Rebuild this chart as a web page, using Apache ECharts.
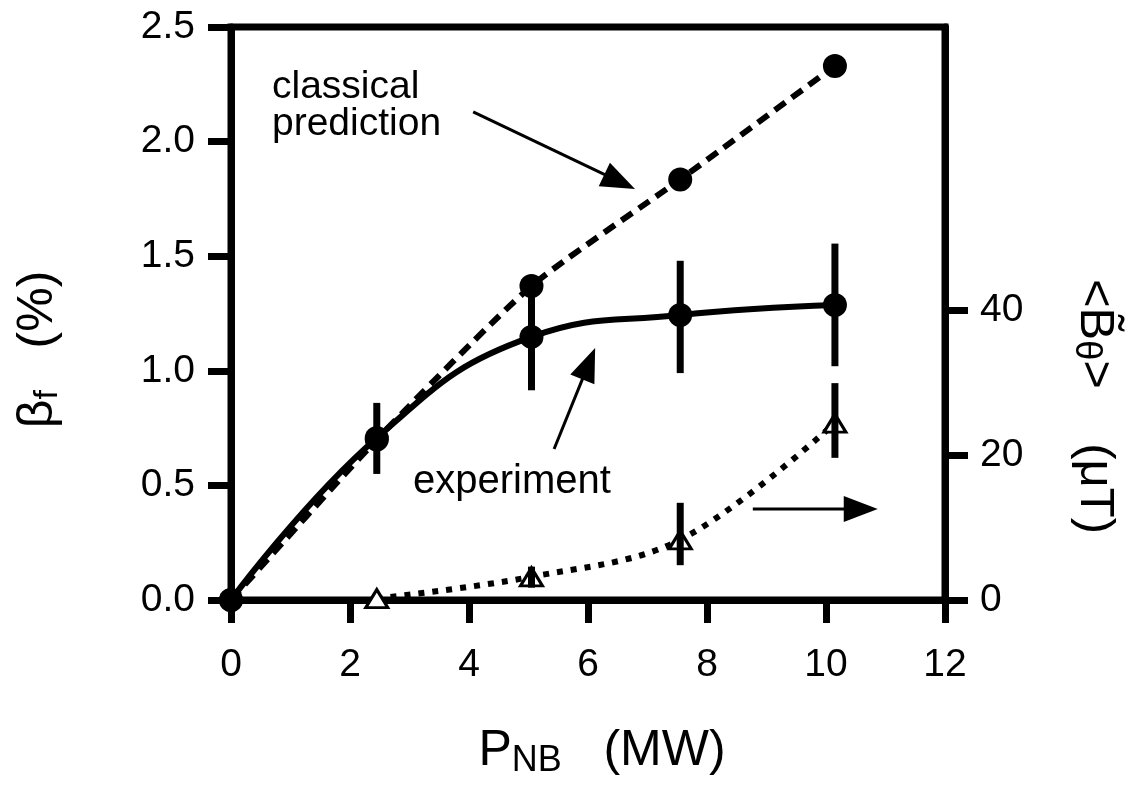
<!DOCTYPE html>
<html>
<head>
<meta charset="utf-8">
<script src="https://cdn.jsdelivr.net/npm/echarts@6/dist/echarts.min.js"></script>
<style>html,body{margin:0;padding:0;background:#fff;}#chart{width:1148px;height:785px;}</style>
</head>
<body>
<div id="chart"></div>
<script>
// ---- data ----
const powerMW        = [0, 2.45, 5.05, 7.55, 10.15];
const classicalBeta  = [0, 0.70, 1.37, 1.835, 2.33];
const experimentBeta = [0, 0.707, 1.148, 1.243, 1.287];
const experimentLow  = [null, 0.55, 0.915, 0.99, 1.02];
const experimentHigh = [null, 0.86, 1.38, 1.48, 1.555];
const fluctPower = [2.45, 5.05, 7.55, 10.15];
const fluctB     = [0.2, 3.2, 8.3, 24.4];
const fluctLow   = [null, 1.7, 4.8, 19.6];
const fluctHigh  = [null, 4.6, 13.4, 29.9];
const rightTicks = [0, 20, 40];
// annotation arrows (data coordinates, left axis)
const arrowFromX = [4.07, 5.43, 8.77];
const arrowFromY = [2.13, 0.659, 0.397];
const arrowToX   = [6.79, 6.12, 10.87];
const arrowToY   = [1.793, 1.10, 0.397];

const FONT = "'Liberation Sans', Arial, sans-serif";
const zip = (xs, ys) => xs.map((x, i) => [x, ys[i]]);
const bars = (xs, lo, hi) => xs.map((x, i) => [x, lo[i], hi[i]]).filter(d => d[1] != null);

function errRender(params, api) {
  const p1 = api.coord([api.value(0), api.value(1)]);
  const p2 = api.coord([api.value(0), api.value(2)]);
  return { type: 'line', shape: { x1: p1[0], y1: p1[1], x2: p2[0], y2: p2[1] },
           style: { stroke: '#000', lineWidth: 7 } };
}
function arrowRender(params, api) {
  const a = api.coord([api.value(0), api.value(1)]);
  const b = api.coord([api.value(2), api.value(3)]);
  const dx = b[0] - a[0], dy = b[1] - a[1];
  const L = Math.sqrt(dx * dx + dy * dy), ux = dx / L, uy = dy / L;
  const hl = 34, hw = 13;
  const bx = b[0] - ux * hl, by = b[1] - uy * hl;
  return { type: 'group', children: [
    { type: 'line', shape: { x1: a[0], y1: a[1], x2: bx + ux * 4, y2: by + uy * 4 }, style: { stroke: '#000', lineWidth: 3 } },
    { type: 'polygon', shape: { points: [[b[0], b[1]], [bx - uy * hw, by + ux * hw], [bx + uy * hw, by - ux * hw]] }, style: { fill: '#000' } }
  ]};
}

const chart = echarts.init(document.getElementById('chart'), null, { renderer: 'canvas' });
const axisLine = { show: true, lineStyle: { color: '#000', width: 7 } };
const axisTick = { show: true, length: 23, lineStyle: { color: '#000', width: 7 } };
chart.setOption({
  animation: false,
  backgroundColor: '#fff',
  grid: { left: 231, right: 203, top: 27, bottom: 185, show: true, borderColor: '#000', borderWidth: 7, backgroundColor: 'transparent' },
  xAxis: {
    type: 'value', min: 0, max: 12, interval: 2,
    axisLine, axisTick, splitLine: { show: false },
    axisLabel: { color: '#000', fontSize: 39, fontFamily: FONT, margin: 46 },
    name: 'P{sub|NB}   (MW)', nameLocation: 'middle', nameGap: 123,
    nameTextStyle: { color: '#000', fontFamily: FONT, fontSize: 50, lineHeight: 56, padding: [0, 0, 0, 28],
      rich: { sub: { fontSize: 36, fontFamily: FONT, color: '#000', verticalAlign: 'bottom', lineHeight: 40 } } }
  },
  yAxis: [{
    type: 'value', min: 0, max: 2.5, interval: 0.5, position: 'left',
    axisLine, axisTick, splitLine: { show: false },
    axisLabel: { color: '#000', fontSize: 39, fontFamily: FONT, margin: 36, formatter: v => v.toFixed(1) },
    name: 'β{sub|f}   (%)', nameLocation: 'middle', nameGap: 166,
    nameTextStyle: { color: '#000', fontFamily: FONT, fontSize: 50, lineHeight: 54, padding: [0, 72, 0, 0],
      rich: { sub: { fontSize: 34, fontFamily: FONT, color: '#000', verticalAlign: 'bottom', lineHeight: 30 } } }
  }, {
    type: 'value', min: 0, max: 79, position: 'right',
    axisLine, splitLine: { show: false },
    axisTick: { show: true, length: 23, lineStyle: { color: '#000', width: 7 }, customValues: rightTicks },
    axisLabel: { color: '#000', fontSize: 39, fontFamily: FONT, margin: 35, customValues: rightTicks },
    name: '<B\u0303{sub|θ}>    (μT)', nameLocation: 'middle', nameRotate: -90, nameGap: 123,
    nameTextStyle: { color: '#000', fontFamily: FONT, fontSize: 49, lineHeight: 54, padding: [0, 0, 0, 186],
      rich: { sub: { fontSize: 36, fontFamily: FONT, color: '#000', verticalAlign: 'bottom', lineHeight: 30 } } }
  }],
  graphic: [
    { type: 'text', left: 272, top: 68, style: { text: 'classical\nprediction', font: '39px ' + FONT, lineHeight: 37, fill: '#000' } },
    { type: 'text', left: 413, top: 462, style: { text: 'experiment', font: '40px ' + FONT, fill: '#000' } }
  ],
  series: [
    { name: 'classical prediction', type: 'line', data: zip(powerMW, classicalBeta), smooth: 0.2,
      symbol: 'circle', symbolSize: 24, itemStyle: { color: '#000' },
      lineStyle: { color: '#000', width: 6, type: [13, 8] }, z: 3 },
    { name: 'experiment', type: 'line', data: zip(powerMW, experimentBeta), smooth: 0.45,
      symbol: 'circle', symbolSize: 24, itemStyle: { color: '#000' },
      lineStyle: { color: '#000', width: 6 }, z: 4 },
    { name: 'experiment error', type: 'custom', data: bars(powerMW, experimentLow, experimentHigh),
      renderItem: errRender, encode: { x: 0, y: [1, 2] }, z: 5 },
    { name: 'B fluctuation', type: 'line', yAxisIndex: 1, data: zip(fluctPower, fluctB), smooth: 0.35,
      symbol: 'triangle', symbolSize: [22, 18], itemStyle: { color: '#fff', borderColor: '#000', borderWidth: 3 },
      lineStyle: { color: '#000', width: 6, type: [6, 8] }, z: 3 },
    { name: 'B fluctuation error', type: 'custom', yAxisIndex: 1, data: bars(fluctPower, fluctLow, fluctHigh),
      renderItem: errRender, encode: { x: 0, y: [1, 2] }, z: 5 },
    { name: 'annotations', type: 'custom', clip: false,
      data: arrowFromX.map((x, i) => [x, arrowFromY[i], arrowToX[i], arrowToY[i]]),
      renderItem: arrowRender, encode: { x: [0, 2], y: [1, 3] }, z: 6 }
  ]
});
</script>
</body>
</html>
